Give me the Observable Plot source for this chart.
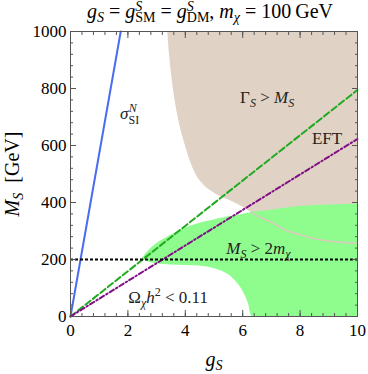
<!DOCTYPE html>
<html><head><meta charset="utf-8">
<script src="https://cdn.jsdelivr.net/npm/d3@7"></script>
<script src="https://cdn.jsdelivr.net/npm/@observablehq/plot@0.6"></script>
<style>
body{margin:0;background:#fff;}
#wrap{position:relative;width:368px;height:374px;overflow:hidden;font-family:"Liberation Serif","Times New Roman",serif;}
#title{position:absolute;left:20px;top:-1px;width:380px;text-align:center;font-size:20px;line-height:24px;white-space:nowrap;color:#000;}
.ss{display:inline-block;position:relative;font-size:0.7em;line-height:1;}
.ss .u{position:absolute;left:0;bottom:0.5em;font-style:italic;}
.ss .d{position:relative;top:0.25em;}
.sb{font-size:0.7em;position:relative;top:0.25em;}
#ylab{position:absolute;left:12.5px;top:173.5px;transform:translate(-50%,-50%) rotate(-90deg);font-size:20px;line-height:20px;white-space:nowrap;color:#000;}
#chart{position:absolute;left:0;top:0;}
</style></head>
<body><div id="wrap"><div id="chart"></div>
<div id="title"><i>g</i><span class="sb"><i>S</i></span> = <i>g</i><span class="ss"><span class="u">S</span><span class="d">SM</span></span> = <i>g</i><span class="ss"><span class="u">S</span><span class="d">DM</span></span>, <i>m</i><span class="sb"><i>χ</i></span> = 100&thinsp;GeV</div>
<div id="ylab"><i>M</i><span class="sb"><i>S</i></span>&nbsp;&nbsp;[GeV]</div>
</div>
<script>
// tick values
const gMajor = [0, 2, 4, 6, 8, 10];
const mMajor = [0, 200, 400, 600, 800, 1000];
const gMinor = d3.range(0, 10.001, 0.4);
const mMinor = d3.range(0, 1000.1, 40);

// Γ_S > M_S region: lower boundary vs g_S (upper = 1000)
const tanG  = [3.39, 3.45, 3.53, 3.64, 3.8, 4.0, 4.25, 4.5, 4.8, 5.1, 5.4, 5.7, 6.0, 6.3, 6.6, 7.0, 7.5, 8.0, 8.5, 9.0, 9.5, 10];
const tanLo = [1000, 920, 840, 760, 675, 600, 525, 478, 447, 427, 413, 400, 384, 365, 348, 331, 303, 287, 273, 265, 260, 257];

// Ω h^2 < 0.11 (green) region: lower and upper boundary vs g_S
const grnG  = [2.5, 2.7, 3.0, 3.5, 4.0, 4.5, 5.0, 5.5, 5.8, 6.0, 6.2, 6.33, 6.6, 7.0, 8.0, 9.0, 10];
const grnLo = [203, 192, 185, 181, 179, 177, 168, 147, 118, 90, 45, 0, 0, 0, 0, 0, 0];
const grnHi = [203, 228, 255, 285, 310, 327, 339, 350, 355, 358, 362, 366, 368, 373, 386, 391, 395];

// straight lines (g_S, M_S) end points
const blueG = [0, 1.75],  blueM = [0, 1000];
const effG  = [0, 10],    effM  = [0, 795];
const purG  = [0, 10],    purM  = [0, 623];
const thresholdM = [200];

// annotations
const annKey = ["@sigma", "@gamma", "@eft", "@ms", "@omega"];
const annG   = [2.06, 6.85, 8.94, 6.55, 3.4];
const annM   = [712, 767, 625, 240, 65];

const FONT = '"Liberation Serif","Times New Roman",serif';
const TAN = "#e0d3c5", GREEN = "#8ffc8e";
const tanRows = tanG.map((g, i) => ({g, lo: tanLo[i], hi: 1000}));
const grnRows = grnG.map((g, i) => ({g, lo: grnLo[i], hi: grnHi[i]}));
const pts = (G, M) => G.map((g, i) => ({g, M: M[i]}));
const ann = annKey.map((k, i) => ({k, g: annG[i], M: annM[i]}));

const TK = "#555";
const plot = Plot.plot({
  width: 368, height: 374,
  marginTop: 31, marginBottom: 58, marginLeft: 70, marginRight: 11,
  x: {domain: [0, 10]},
  y: {domain: [0, 1000]},
  style: {fontFamily: FONT, fontSize: "17px", color: "#000", background: "transparent", overflow: "visible"},
  marks: [
    Plot.areaY(tanRows, {x: "g", y1: "lo", y2: "hi", fill: TAN, curve: "catmull-rom"}),
    Plot.areaY(grnRows, {x: "g", y1: "lo", y2: "hi", fill: GREEN, curve: "catmull-rom"}),
    Plot.line(tanRows.filter(d => d.g >= 6.3), {x: "g", y: "lo", stroke: "#d8cbbb", strokeWidth: 1.6, curve: "catmull-rom"}),
    Plot.line(pts(blueG, blueM), {x: "g", y: "M", stroke: "#4a6cf0", strokeWidth: 2}),
    Plot.line(pts(effG, effM), {x: "g", y: "M", stroke: "#1faa1f", strokeWidth: 2, strokeDasharray: "6.5,3"}),
    Plot.line(pts(purG, purM), {x: "g", y: "M", stroke: "#800f86", strokeWidth: 2, strokeDasharray: "5,2.5,1.5,2.5"}),
    Plot.ruleY(thresholdM, {x1: 0, x2: 10, stroke: "#000", strokeWidth: 2, strokeDasharray: "3,2"}),
    Plot.text(ann, {x: "g", y: "M", text: "k", fontSize: 17, fill: "#222"}),
    Plot.frame({stroke: TK}),
    Plot.axisX(gMajor, {anchor: "bottom", tickSize: 0, tickPadding: 7, label: null, fontSize: 17, tickFormat: d => String(d)}),
    Plot.axisX(gMajor, {anchor: "bottom", tickSize: -6, fill: "none", stroke: TK, label: null}),
    Plot.axisX(gMinor, {anchor: "bottom", tickSize: -3, fill: "none", stroke: TK, label: null}),
    Plot.axisX(gMajor, {anchor: "top", tickSize: -6, fill: "none", stroke: TK, label: null}),
    Plot.axisX(gMinor, {anchor: "top", tickSize: -3, fill: "none", stroke: TK, label: null}),
    Plot.axisY(mMajor, {anchor: "left", tickSize: 0, tickPadding: 4, label: null, fontSize: 17, tickFormat: d => String(d)}),
    Plot.axisY(mMajor, {anchor: "left", tickSize: -6, fill: "none", stroke: TK, label: null}),
    Plot.axisY(mMinor, {anchor: "left", tickSize: -3, fill: "none", stroke: TK, label: null}),
    Plot.axisY(mMajor, {anchor: "right", tickSize: -6, fill: "none", stroke: TK, label: null}),
    Plot.axisY(mMinor, {anchor: "right", tickSize: -3, fill: "none", stroke: TK, label: null}),
    Plot.text(["@xlabel"], {frameAnchor: "bottom", dy: 43, text: d => d, fontSize: 20, textAnchor: "middle", lineAnchor: "middle"})
  ]
});

const rich = {
  "@sigma": '<tspan font-style="italic">σ</tspan><tspan font-size="12" dy="5">SI</tspan><tspan font-size="12" font-style="italic" dx="-10.5" dy="-12">N</tspan>',
  "@gamma": 'Γ<tspan font-size="12" font-style="italic" dy="4">S</tspan><tspan dy="-4">&#160;&gt;&#160;</tspan><tspan font-style="italic">M</tspan><tspan font-size="12" font-style="italic" dy="4">S</tspan>',
  "@eft": 'EFT',
  "@ms": '<tspan font-style="italic">M</tspan><tspan font-size="12" font-style="italic" dy="4">S</tspan><tspan dy="-4">&#160;&gt;&#160;2</tspan><tspan font-style="italic">m</tspan><tspan font-size="12" font-style="italic" dy="4">χ</tspan>',
  "@omega": 'Ω<tspan font-size="12" font-style="italic" dy="4">χ</tspan><tspan font-style="italic" dy="-4">h</tspan><tspan font-size="12" dy="-7">2</tspan><tspan dy="7">&#160;&lt;&#160;0.11</tspan>',
  "@xlabel": '<tspan font-style="italic">g</tspan><tspan font-size="14" font-style="italic" dy="4">S</tspan>'
};
plot.querySelectorAll("text").forEach(t => {
  const key = t.textContent;
  const r = rich[key];
  if (r !== undefined) t.innerHTML = r;
});
document.getElementById("chart").append(plot);
</script>
</body></html>
